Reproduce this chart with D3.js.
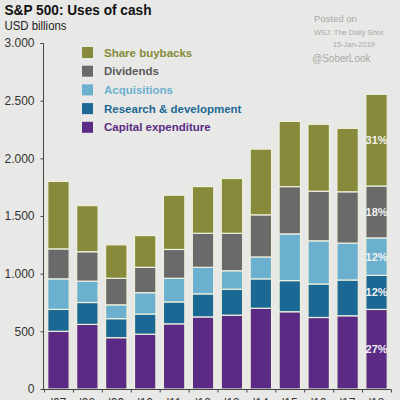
<!DOCTYPE html>
<html><head><meta charset="utf-8">
<script src="https://cdn.jsdelivr.net/npm/d3@7"></script>
<style>html,body{margin:0;padding:0;background:#e8e8e6;}svg{display:block;}</style>
</head><body>
<svg id="c" width="400" height="400"></svg>
<script>
const years = ["'07","'08","'09","'10","'11","'12","'13","'14","'15","'16","'17","'18"];
const capex    = [500,560,445,475,565,625,640,700,670,620,635,690];
const rnd      = [190,190,165,175,190,200,225,255,270,290,310,295];
const acquis   = [265,185,120,185,205,230,160,190,405,375,320,325];
const dividends= [260,255,230,220,250,295,325,365,410,430,445,450];
const buybacks = [585,400,290,275,470,405,475,570,565,580,550,795];
const seriesNames = ["Capital expenditure","Research & development","Acquisitions","Dividends","Share buybacks"];
const seriesColors = ["#5b2a84","#1c6894","#6cb0d0","#6a6a6a","#878a3a"];
const legendTextColors = ["#5b2a84","#1c6894","#6cb0d0","#5a5a5a","#878a3a"];
const pctLabels = ["27%","12%","12%","18%","31%"];
const yTicks = [0,500,1000,1500,2000,2500,3000];
const yTickLabels = ["0","500","1.000","1.500","2.000","2.500","3.000"];

const svg = d3.select("#c");
const font = "Liberation Sans, Arial, sans-serif";
svg.append("rect").attr("width",400).attr("height",400).attr("fill","#e8e8e6");

const rows = years.map((y,i)=>({year:y, s0:capex[i], s1:rnd[i], s2:acquis[i], s3:dividends[i], s4:buybacks[i]}));
const keys = ["s0","s1","s2","s3","s4"];
const stack = d3.stack().keys(keys)(rows);

const x = d3.scaleBand().domain(years).range([44,391]).paddingInner(0.26).paddingOuter(0.13);
const y = d3.scaleLinear().domain([0,3000]).range([389,43]);

// bars
const g = svg.append("g");
stack.forEach((layer,li)=>{
  g.selectAll(null).data(layer).enter().append("rect")
    .attr("x",d=>x(d.data.year))
    .attr("width",x.bandwidth())
    .attr("y",d=>y(d[1]))
    .attr("height",d=>y(d[0])-y(d[1]))
    .attr("fill",seriesColors[li])
    .attr("stroke","#eef0dc").attr("stroke-width",1.2);
});

// percentage labels on last bar
const lastIdx = years.length-1;
stack.forEach((layer,li)=>{
  const d = layer[lastIdx];
  svg.append("text")
    .attr("x",x(years[lastIdx])+x.bandwidth()/2)
    .attr("y",(y(d[0])+y(d[1]))/2)
    .attr("text-anchor","middle").attr("dominant-baseline","central")
    .attr("font-family",font).attr("font-weight","bold").attr("font-size",11)
    .attr("fill","#f2f2f2").text(pctLabels[li]);
});

// y axis
const yAxis = d3.axisLeft(y).tickValues(yTicks).tickFormat((d,i)=>yTickLabels[i]).tickSize(3).tickPadding(6);
const ya = svg.append("g").attr("transform","translate(43.5,0)").call(yAxis);
ya.select(".domain").attr("stroke","#444").attr("d","M-3,43.5H0V389.5");
ya.selectAll(".tick line").attr("stroke","#444");
ya.selectAll(".tick text").attr("font-family",font).attr("font-size",12).attr("fill","#333");

// x axis
const xa = svg.append("g").attr("transform","translate(0,389.5)");
xa.append("line").attr("x1",43).attr("x2",391).attr("stroke","#444");
const bounds = years.map((d,i)=>44+i*x.step()).concat([391]);
xa.selectAll(null).data(bounds).enter().append("line")
  .attr("x1",d=>d+0.5).attr("x2",d=>d+0.5).attr("y1",0).attr("y2",3).attr("stroke","#444");
xa.selectAll(null).data(years).enter().append("text")
  .attr("x",d=>x(d)+x.bandwidth()/2).attr("y",17)
  .attr("text-anchor","middle").attr("font-family",font).attr("font-size",12).attr("fill","#333")
  .text(d=>d);

// title
svg.append("text").attr("x",4.5).attr("y",15).attr("font-family",font).attr("font-weight","bold")
  .attr("font-size",15.5).attr("fill","#111")
  .attr("textLength",147).attr("lengthAdjust","spacingAndGlyphs")
  .text("S&P 500: Uses of cash");
svg.append("text").attr("x",4.5).attr("y",30).attr("font-family",font)
  .attr("font-size",12).attr("fill","#222")
  .attr("textLength",62).attr("lengthAdjust","spacingAndGlyphs")
  .text("USD billions");

// legend (top-down: buybacks first)
const legendOrder = [4,3,2,1,0];
legendOrder.forEach((si,k)=>{
  const cy = 52.5 + k*18.7;
  svg.append("rect").attr("x",82).attr("y",cy-5.5).attr("width",11).attr("height",11).attr("fill",seriesColors[si]);
  svg.append("text").attr("x",104).attr("y",cy).attr("dominant-baseline","central")
    .attr("font-family",font).attr("font-weight","bold").attr("font-size",11.5)
    .attr("fill",legendTextColors[si]).text(seriesNames[si]);
});

// source notes
svg.append("text").attr("x",314).attr("y",22).attr("font-family",font).attr("font-size",9.5).attr("fill","#a8a8a8").text("Posted on");
svg.append("text").attr("x",314).attr("y",35).attr("font-family",font).attr("font-size",7.5).attr("fill","#a8a8a8").text("WSJ: The Daily Shot");
svg.append("text").attr("x",375).attr("y",47).attr("text-anchor","end").attr("font-family",font).attr("font-size",7.5).attr("fill","#a8a8a8").text("15-Jan-2019");
svg.append("text").attr("x",312).attr("y",62).attr("font-family",font).attr("font-size",10).attr("fill","#a8a8a8").text("@SoberLook");
</script>
</body></html>
